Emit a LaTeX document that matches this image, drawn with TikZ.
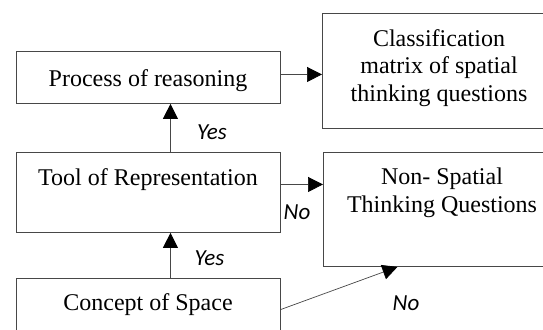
\documentclass[tikz,border=0pt]{standalone}
\usepackage{fontspec}
\setmainfont{Liberation Serif}
\newfontfamily\lblfont{Carlito}
\usetikzlibrary{arrows.meta}
\begin{document}
\begin{tikzpicture}[x=1bp,y=-1bp,
  box/.style={draw=black!72, line width=0.9bp, inner sep=0pt, fill=none},
  txt/.style={font=\fontsize{24bp}{27.5bp}\selectfont, align=center, inner sep=0pt},
  lbl/.style={font=\lblfont\itshape\fontsize{23bp}{26bp}\selectfont, inner sep=0pt},
  arr/.style={draw=black!72, line width=0.7bp, -{Triangle[length=15bp,width=15bp,color=black]}}]
\useasboundingbox (0,0) rectangle (543,329);
\fill[white] (0,0) rectangle (543,329);
% boxes
\node[box, minimum width=264bp, minimum height=52bp, anchor=north west] (proc) at (16,51) {};
\node[box, minimum width=264bp, minimum height=80bp, anchor=north west] (tool) at (16,152) {};
\node[box, minimum width=264bp, minimum height=62bp, anchor=north west] (con) at (16,278) {};
\node[box, minimum width=236bp, minimum height=115bp, anchor=north west] (cls) at (322,13) {};
\node[box, minimum width=238bp, minimum height=114bp, anchor=north west] (non) at (323,152) {};
% texts
\node[txt, anchor=base] (tproc) at (148,86.5) {Process of reasoning};
\node[txt, anchor=base] (ttool) at (148,185) {Tool of Representation};
\node[txt, anchor=base] (tcon) at (148,310) {Concept of Space};
\node[txt] (tcls) at (439,68) {Classification\\matrix of spatial\\thinking questions};
\node[txt] (tnon) at (442,193) {Non- Spatial\\Thinking Questions};
% connectors
\draw[arr] ([yshift=3bp]proc.east) -- ([yshift=3bp]proc.east -| cls.west);
\draw[arr] ([yshift=8bp]tool.east) -- ([yshift=8bp]tool.east -| non.west);
\draw[arr] ([xshift=22bp]tool.north) -- ([xshift=22bp]proc.south);
\draw[arr] ([xshift=22bp]con.north) -- ([xshift=22bp]tool.south);
\draw[arr] (con.east) -- ([xshift=-45bp]non.south);
% labels
\node[lbl] (yes1) at (212,132) {Yes};
\node[lbl] (yes2) at (209.5,258) {Yes};
\node[lbl] (no1) at (297,212) {No};
\node[lbl] (no2) at (406,303) {No};
\end{tikzpicture}
\end{document}
